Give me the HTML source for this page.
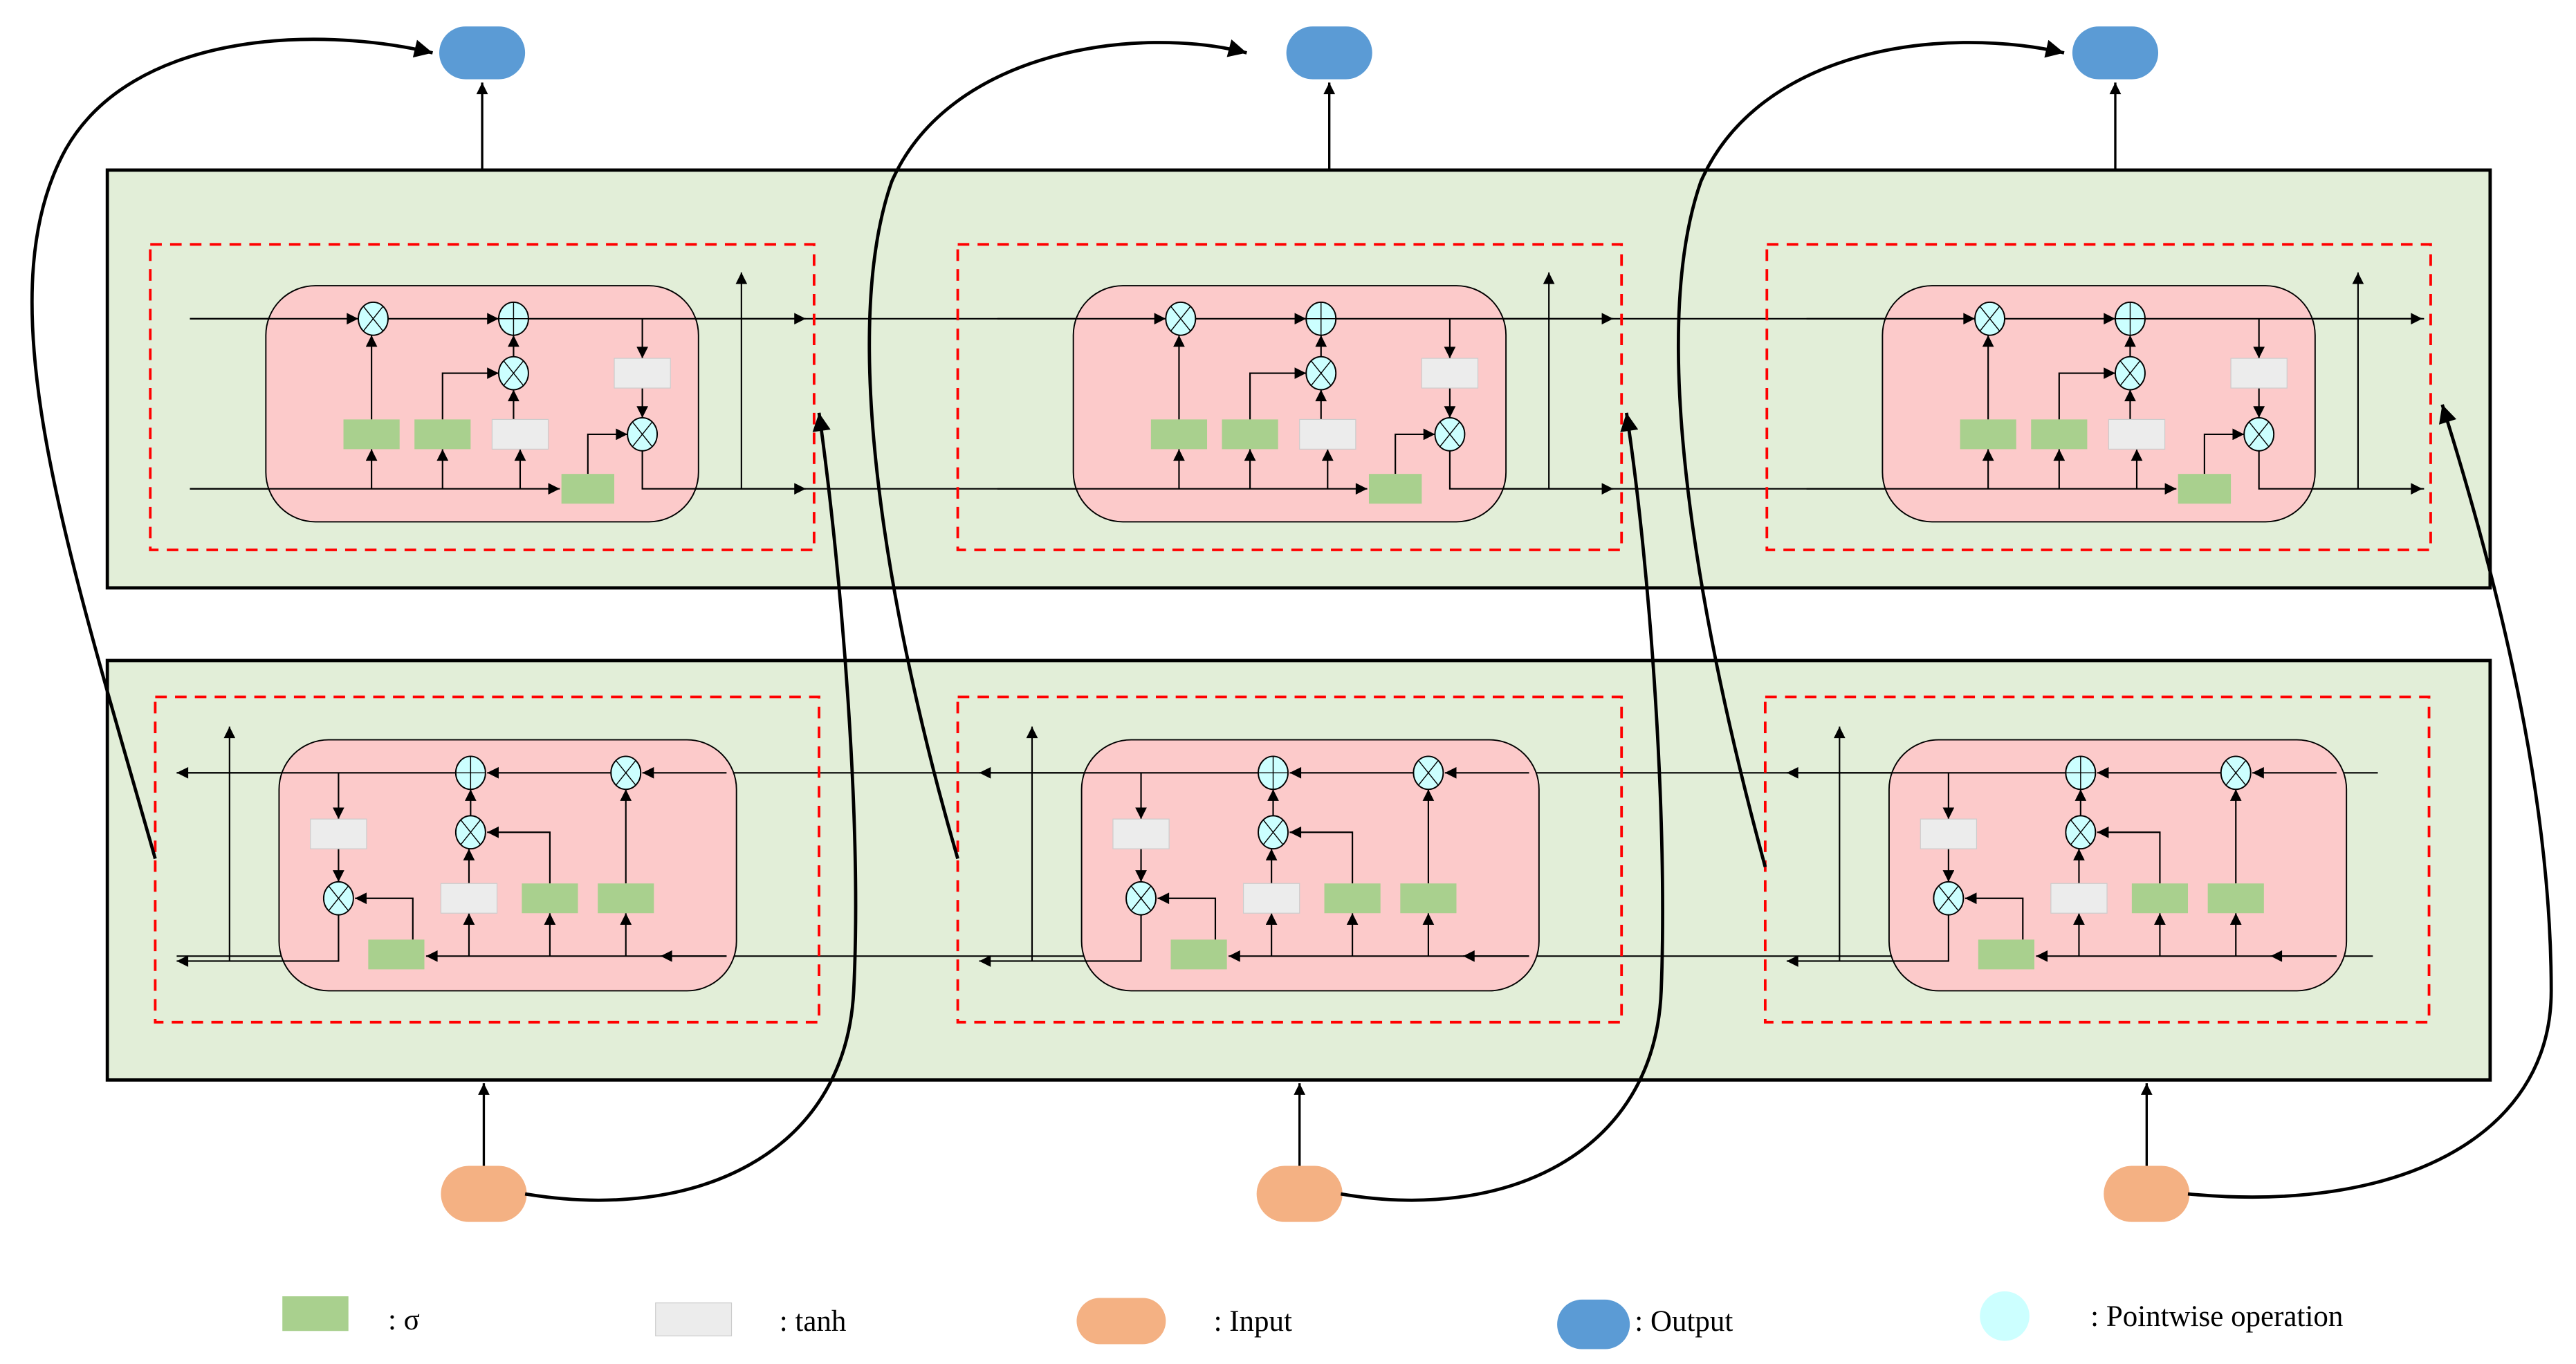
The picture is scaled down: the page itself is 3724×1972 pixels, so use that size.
<!DOCTYPE html>
<html><head><meta charset="utf-8"><style>
html,body{margin:0;padding:0;background:#fff;}
svg{display:block;}
</style></head><body>
<svg width="3724" height="1972" viewBox="0 0 1560 826" preserveAspectRatio="none" xmlns="http://www.w3.org/2000/svg">
<defs>
<marker id="a" viewBox="0 0 10 10" refX="10" refY="5" markerWidth="9" markerHeight="7" markerUnits="userSpaceOnUse" orient="auto"><path d="M0,0L10,5L0,10z" fill="#000"/></marker>
<marker id="b" viewBox="0 0 10 10" refX="10" refY="5" markerWidth="16" markerHeight="11" markerUnits="userSpaceOnUse" orient="auto"><path d="M0,0L10,5L0,10z" fill="#000"/></marker>
<g id="cx"><ellipse cx="0" cy="0" rx="9" ry="10" fill="#ccffff" stroke="#000" stroke-width="0.8"/><path d="M-6,-7.5L6,7.5M6,-7.5L-6,7.5" stroke="#000" stroke-width="0.6"/></g>
<g id="cp"><ellipse cx="0" cy="0" rx="9" ry="10" fill="#ccffff" stroke="#000" stroke-width="0.8"/><path d="M0,-10V10M-9,0H9" stroke="#000" stroke-width="0.6"/></g>
<g id="topcell" fill="none" stroke="#000" stroke-width="0.9">
  <rect x="91" y="148" width="402" height="185" stroke="#ff0000" stroke-width="1.6" stroke-dasharray="7,5"/>
  <rect x="161" y="173" width="262" height="143" rx="30" fill="#fccaca" stroke="#000" stroke-width="0.8"/>
  <path d="M115,193H217" marker-end="url(#a)"/>
  <path d="M235,193H302" marker-end="url(#a)"/>
  <path d="M320,193H488" marker-end="url(#a)"/>
  <path d="M115,296H339" marker-end="url(#a)"/>
  <path d="M389,273V296H488" marker-end="url(#a)"/>
  <path d="M449,296V165" marker-end="url(#a)"/>
  <path d="M225,296V272" marker-end="url(#a)"/>
  <path d="M225,254V203" marker-end="url(#a)"/>
  <path d="M268,296V272" marker-end="url(#a)"/>
  <path d="M268,254V226H302" marker-end="url(#a)"/>
  <path d="M315,296V272" marker-end="url(#a)"/>
  <path d="M311,254V236" marker-end="url(#a)"/>
  <path d="M311,216V203" marker-end="url(#a)"/>
  <path d="M389,193V217" marker-end="url(#a)"/>
  <path d="M389,235V253" marker-end="url(#a)"/>
  <path d="M356,287V263H380" marker-end="url(#a)"/>
  <rect x="208" y="254" width="34" height="18" fill="#a9d08e" stroke="none"/>
  <rect x="251" y="254" width="34" height="18" fill="#a9d08e" stroke="none"/>
  <rect x="298" y="254" width="34" height="18" fill="#ececec" stroke="#ccc" stroke-width="0.5"/>
  <rect x="372" y="217" width="34" height="18" fill="#ececec" stroke="#ccc" stroke-width="0.5"/>
  <rect x="340" y="287" width="32" height="18" fill="#a9d08e" stroke="none"/>
  <use href="#cx" x="226" y="193"/>
  <use href="#cp" x="311" y="193"/>
  <use href="#cx" x="311" y="226"/>
  <use href="#cx" x="389" y="263"/>
</g>
<g id="botcell" fill="none" stroke="#000" stroke-width="0.9">
  <rect x="94" y="422" width="402" height="197" stroke="#ff0000" stroke-width="1.6" stroke-dasharray="7,5"/>
  <rect x="169" y="448" width="277" height="152" rx="30" fill="#fccaca" stroke="#000" stroke-width="0.8"/>
  <path d="M440,468H389" marker-end="url(#a)"/>
  <path d="M370,468H295" marker-end="url(#a)"/>
  <path d="M276,468H107" marker-end="url(#a)"/>
  <path d="M440,579H258" marker-end="url(#a)"/>
  <path d="M440,579H400" marker-end="url(#a)"/>
  <path d="M205,554V582H107" marker-end="url(#a)"/>
  <path d="M139,582V440" marker-end="url(#a)"/>
  <path d="M205,468V496" marker-end="url(#a)"/>
  <path d="M205,514V534" marker-end="url(#a)"/>
  <path d="M250,569V544H215" marker-end="url(#a)"/>
  <path d="M284,579V553" marker-end="url(#a)"/>
  <path d="M284,535V514" marker-end="url(#a)"/>
  <path d="M285,494V478" marker-end="url(#a)"/>
  <path d="M333,579V553" marker-end="url(#a)"/>
  <path d="M333,535V504H295" marker-end="url(#a)"/>
  <path d="M379,579V553" marker-end="url(#a)"/>
  <path d="M379,535V478" marker-end="url(#a)"/>
  <rect x="188" y="496" width="34" height="18" fill="#ececec" stroke="#ccc" stroke-width="0.5"/>
  <rect x="267" y="535" width="34" height="18" fill="#ececec" stroke="#ccc" stroke-width="0.5"/>
  <rect x="316" y="535" width="34" height="18" fill="#a9d08e" stroke="none"/>
  <rect x="362" y="535" width="34" height="18" fill="#a9d08e" stroke="none"/>
  <rect x="223" y="569" width="34" height="18" fill="#a9d08e" stroke="none"/>
  <use href="#cx" x="379" y="468"/>
  <use href="#cp" x="285" y="468"/>
  <use href="#cx" x="285" y="504"/>
  <use href="#cx" x="205" y="544"/>
</g>
</defs>

<!-- panels -->
<rect x="65" y="103" width="1443" height="253" fill="#e2eed8" stroke="#000" stroke-width="2"/>
<rect x="65" y="400" width="1443" height="254" fill="#e2eed8" stroke="#000" stroke-width="2"/>

<!-- continuous chain lines -->
<path d="M115,193H1468M115,296H1468" stroke="#000" stroke-width="0.9"/>
<path d="M107,468H1440M107,579H1437" stroke="#000" stroke-width="0.9"/>

<use href="#topcell" x="0" y="0"/>
<use href="#topcell" x="489" y="0"/>
<use href="#topcell" x="979" y="0"/>
<use href="#botcell" x="0" y="0"/>
<use href="#botcell" x="486" y="0"/>
<use href="#botcell" x="975" y="0"/>

<!-- outputs -->
<g fill="none" stroke="#000" stroke-width="1.4">
<path d="M292,103V50" marker-end="url(#a)"/>
<path d="M805,103V50" marker-end="url(#a)"/>
<path d="M1281,103V50" marker-end="url(#a)"/>
<path d="M293,706V656" marker-end="url(#a)"/>
<path d="M787,706V656" marker-end="url(#a)"/>
<path d="M1300,706V656" marker-end="url(#a)"/>
</g>
<rect x="266" y="16" width="52" height="32" rx="16" fill="#5b9bd5"/>
<rect x="779" y="16" width="52" height="32" rx="16" fill="#5b9bd5"/>
<rect x="1255" y="16" width="52" height="32" rx="16" fill="#5b9bd5"/>
<rect x="267" y="706" width="52" height="34" rx="17" fill="#f4b183"/>
<rect x="761" y="706" width="52" height="34" rx="17" fill="#f4b183"/>
<rect x="1274" y="706" width="52" height="34" rx="17" fill="#f4b183"/>

<!-- big curves -->
<g fill="none" stroke="#000" stroke-width="2">
<path d="M94,520C40,330 -10,180 40,90C80,20 190,15 262,32" marker-end="url(#b)"/>
<path d="M580,520C545,400 505,210 540,110C575,30 690,15 755,32" marker-end="url(#b)"/>
<path d="M1069,525C1035,400 995,210 1030,110C1065,30 1175,15 1250,32" marker-end="url(#b)"/>
<path d="M318,723C420,740 512,700 517,600C522,500 510,350 496,250" marker-end="url(#b)"/>
<path d="M812,723C910,740 1002,700 1006,600C1010,500 1000,350 985,250" marker-end="url(#b)"/>
<path d="M1325,723C1450,735 1545,690 1545,600C1545,480 1512,350 1479,245" marker-end="url(#b)"/>
</g>

<!-- legend -->
<g font-family="Liberation Serif, serif" font-size="18" fill="#000">
<rect x="171" y="785" width="40" height="21" fill="#a9d08e"/>
<text x="235" y="805">: σ</text>
<rect x="397" y="789" width="46" height="20" fill="#ececec" stroke="#ccc" stroke-width="0.5"/>
<text x="472" y="806">: tanh</text>
<rect x="652" y="786" width="54" height="28" rx="14" fill="#f4b183"/>
<text x="735" y="806">: Input</text>
<rect x="943" y="787" width="44" height="30" rx="15" fill="#5b9bd5"/>
<text x="990" y="806">: Output</text>
<circle cx="1214" cy="797" r="15" fill="#ccffff"/>
<text x="1266" y="803">: Pointwise operation</text>
</g>
</svg>
</body></html>
